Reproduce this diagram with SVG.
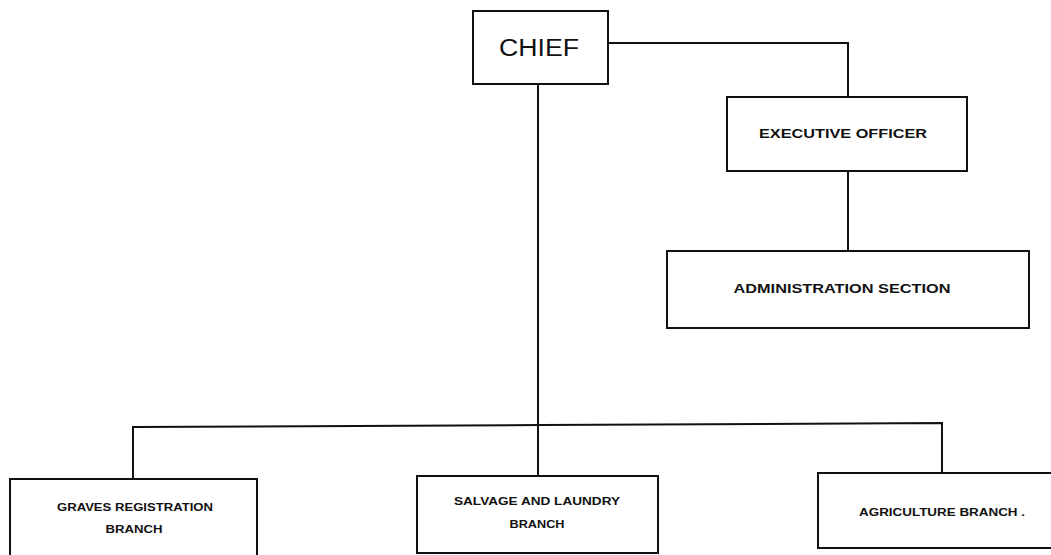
<svg xmlns="http://www.w3.org/2000/svg" width="1051" height="555" viewBox="0 0 1051 555">
<style>
.box{fill:#fff;stroke:#111;stroke-width:2}
.ln{fill:none;stroke:#111;stroke-width:2}
text{font-family:"Liberation Sans",Arial,sans-serif;font-weight:bold;fill:#111;text-anchor:middle}
.big{font-weight:normal;font-size:23px}
.m{font-size:13px}
.s{font-size:11.5px}
</style>
<rect width="1051" height="555" fill="#fff"/>
<g id="connectors">
<polyline class="ln" points="608,43 848,43 848,97"/>
<line class="ln" x1="848" y1="171" x2="848" y2="251"/>
<line class="ln" x1="538" y1="84" x2="538" y2="476"/>
<polyline class="ln" points="133,479 133,427 540,425 942,423 942,473"/>
</g>
<g id="chief"><rect class="box" x="473" y="11" width="135" height="73"/><text class="big" x="539" y="56" textLength="80" lengthAdjust="spacingAndGlyphs">CHIEF</text></g>
<g id="executive-officer"><rect class="box" x="727" y="97" width="240" height="74"/><text class="m" x="843" y="138" textLength="168" lengthAdjust="spacingAndGlyphs">EXECUTIVE OFFICER</text></g>
<g id="administration-section"><rect class="box" x="667" y="251" width="362" height="77"/><text class="m" x="842" y="293" textLength="217" lengthAdjust="spacingAndGlyphs">ADMINISTRATION SECTION</text></g>
<g id="graves-registration"><rect class="box" x="10" y="479" width="247" height="80"/><text class="s" x="135" y="511" textLength="156" lengthAdjust="spacingAndGlyphs">GRAVES REGISTRATION</text><text class="s" x="134" y="533" textLength="57" lengthAdjust="spacingAndGlyphs">BRANCH</text></g>
<g id="salvage-laundry"><rect class="box" x="417" y="476" width="241" height="77"/><text class="s" x="537" y="505" textLength="166" lengthAdjust="spacingAndGlyphs">SALVAGE AND LAUNDRY</text><text class="s" x="537" y="528" textLength="55" lengthAdjust="spacingAndGlyphs">BRANCH</text></g>
<g id="agriculture"><rect class="box" x="818" y="473" width="240" height="75"/><text class="s" x="942" y="516" textLength="166" lengthAdjust="spacingAndGlyphs">AGRICULTURE BRANCH .</text></g>
</svg>
